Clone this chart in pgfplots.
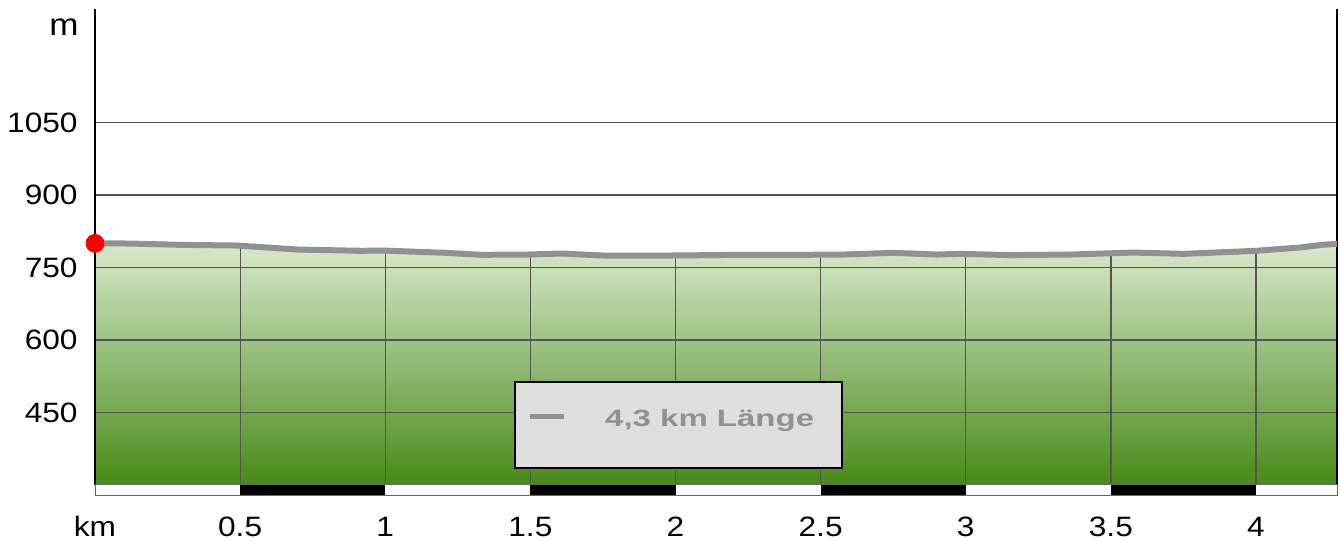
\documentclass[border=0pt]{standalone}
\usepackage{fontspec}
\setmainfont{Liberation Sans}
\usepackage{graphicx}
\usepackage{pgfplots}
\pgfplotsset{compat=1.18}
\definecolor{prof}{RGB}{145,145,145}
\definecolor{gtop}{RGB}{216,232,204}
\definecolor{gbot}{RGB}{72,139,24}
\definecolor{legfill}{RGB}{222,222,222}
\definecolor{gridc}{RGB}{85,85,85}
\newcommand{\tl}[1]{\scalebox{1.13}[1]{#1}}

\pgfplotstableread{
x y
0 800
0.12 799.7
0.29 797
0.49 795.5
0.70 787.2
0.92 784.6
0.99 785.2
1.21 780.4
1.33 776.3
1.49 776.9
1.61 779
1.75 774.8
1.97 774.8
2.23 776.3
2.44 776.3
2.58 776.9
2.75 780.4
2.90 776.9
2.98 778.3
3.15 775.7
3.36 776.9
3.58 781
3.75 778.3
4.00 784.6
4.15 791.4
4.23 797
4.279 799
}\profile

\pgfplotstableread{
x y
0 300
0 800
0.12 799.7
0.29 797
0.49 795.5
0.70 787.2
0.92 784.6
0.99 785.2
1.21 780.4
1.33 776.3
1.49 776.9
1.61 779
1.75 774.8
1.97 774.8
2.23 776.3
2.44 776.3
2.58 776.9
2.75 780.4
2.90 776.9
2.98 778.3
3.15 775.7
3.36 776.9
3.58 781
3.75 778.3
4.00 784.6
4.15 791.4
4.23 797
4.279 799
4.279 300
}\areadata

\begin{document}
\begin{tikzpicture}
\begin{axis}[
  at={(47.5pt,28pt)}, anchor=south west,
  scale only axis, width=621pt, height=238pt,
  xmin=0, xmax=4.279, ymin=300, ymax=1285,
  set layers,
  separate axis lines,
  x axis line style={draw=none},
  y axis line style={black, line width=1.4pt},
  major tick length=0pt,
  xtick={0,0.5,1,1.5,2,2.5,3,3.5,4},
  xticklabels={\tl{km},\tl{0.5},\tl{1},\tl{1.5},\tl{2},\tl{2.5},\tl{3},\tl{3.5},\tl{4}},
  ytick={450,600,750,900,1050},
  yticklabels={\tl{450},\tl{600},\tl{750},\tl{900},\tl{1050}},
  ymajorgrids, major grid style={gridc, line width=0.6pt},
  tick label style={font=\fontsize{14pt}{16pt}\selectfont, inner sep=0pt},
  xticklabel style={anchor=base, yshift=-26pt},
  yticklabel style={anchor=east, xshift=-8.5pt},
  legend style={at={(rel axis cs:0.3375,0.2185)}, anchor=north west,
    draw=black, line width=1pt, fill=legfill, inner xsep=7.5pt, inner ysep=0pt,
    nodes={inner sep=0pt, text height=22.2pt, text depth=20.8pt},
    font=\fontsize{11.8pt}{14pt}\selectfont},
]
\addplot[draw=none, shading=axis, top color=gtop, bottom color=gbot, on layer=axis background, forget plot]
  table {\areadata};
\addplot[ycomb, gridc, line width=0.6pt, mark=none, forget plot] coordinates {
  (0.5,798) (1,788) (1.5,780) (2,778) (2.5,779) (3,781) (3.5,780) (4,788)};
\addplot[prof, line width=3pt, line join=round, forget plot] table {\profile};
\addplot[only marks, mark=*, mark size=4.5pt, red, mark options={draw=red, fill=red}, forget plot]
  coordinates {(0,800)};
\addlegendimage{empty legend}
\addlegendentry{\rule[-20.8pt]{0pt}{43pt}\textcolor{prof}{\rule[3.45pt]{17pt}{2.5pt}}\hspace*{20.5pt}\textcolor{prof}{\resizebox{104.5pt}{\height}{\bfseries 4,3 km Länge}}\hspace*{6.5pt}}
\coordinate (s00) at (axis cs:0,300);
\coordinate (s0e) at (axis cs:4.279,279.3);
\coordinate (a1) at (axis cs:0.5,300);
\coordinate (b1) at (axis cs:1,279.3);
\coordinate (a2) at (axis cs:1.5,300);
\coordinate (b2) at (axis cs:2,279.3);
\coordinate (a3) at (axis cs:2.5,300);
\coordinate (b3) at (axis cs:3,279.3);
\coordinate (a4) at (axis cs:3.5,300);
\coordinate (b4) at (axis cs:4,279.3);
\coordinate (mlab) at (rel axis cs:0,0.945);
\end{axis}
\fill[white] (s00) rectangle (s0e);
\fill[black] (a1) rectangle (b1);
\fill[black] (a2) rectangle (b2);
\fill[black] (a3) rectangle (b3);
\fill[black] (a4) rectangle (b4);
\draw[black!60, line width=0.5pt] (s00) rectangle (s0e);
\node[anchor=base east, inner sep=0pt, font=\fontsize{15.5pt}{18pt}\selectfont]
  at ([xshift=-8pt]mlab) {\tl{m}};
\pgfresetboundingbox
\path[use as bounding box] (0,0) rectangle (670.5pt,270.5pt);
\end{tikzpicture}
\end{document}
